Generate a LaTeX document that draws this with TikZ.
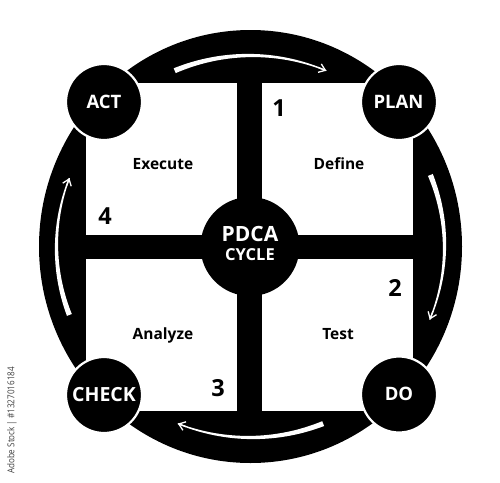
\documentclass[tikz,border=0pt]{standalone}
\usepackage{graphicx}
\usepackage{fontspec}
\setmainfont{Open Sans}
\usetikzlibrary{arrows.meta}
\def\cx{250.5}
\def\cy{246.5}
\def\rx{194}
\def\ry{191}
% tapered white arc from angle #1 (tail) to #2 (head)
\newcommand\taperarc[2]{%
  \fill[white] plot[domain=#1:#2, samples=40, variable=\t]
    ({\cx+(\rx+2.6-2.0*(\t-#1)/(#2-#1))*cos(\t)}, {\cy-(\ry+2.6-2.0*(\t-#1)/(#2-#1))*sin(\t)})
    -- plot[domain=#2:#1, samples=40, variable=\t]
    ({\cx+(\rx-2.6+2.0*(\t-#1)/(#2-#1))*cos(\t)}, {\cy-(\ry-2.6+2.0*(\t-#1)/(#2-#1))*sin(\t)})
    -- cycle;
  \draw[white, line width=1.3pt, -{Straight Barb[length=6pt,width=9pt]}]
    ({\cx+\rx*cos(#2+0.06*(#1-#2))}, {\cy-\ry*sin(#2+0.06*(#1-#2))})
    -- ({\cx+\rx*cos(#2)}, {\cy-\ry*sin(#2)});
}
\begin{document}
\begin{tikzpicture}[x=1pt,y=-1pt,
  corner/.style={circle, fill=black, draw=white, line width=2.2pt, minimum size=76pt,
    inner sep=0pt},
  cornerlabel/.style={anchor=base, text=white, font=\bfseries\fontsize{18.5}{20}\selectfont},
  steplabel/.style={anchor=base, text=black, font=\bfseries\fontsize{15.5}{17}\selectfont},
  numlabel/.style={anchor=base, text=black, font=\bfseries\fontsize{23.5}{25}\selectfont},
  quad/.style={fill=white}
]
\useasboundingbox (0,0) rectangle (500,482);
\fill[white] (0,0) rectangle (500,482);
% outer black disc
\fill[black] (\cx,\cy) ellipse [x radius=211.5, y radius=216.5];
% white quadrants
\fill[quad] (86,83) rectangle (237,235);
\fill[quad] (262,83) rectangle (413,235);
\fill[quad] (86,259) rectangle (237,411);
\fill[quad] (262,259) rectangle (413,411);
% cycle arrows
\taperarc{113}{67}
\taperarc{22}{-22.5}
\taperarc{-68}{-112}
\taperarc{201}{159}
% centre hub
\node[circle, fill=black, minimum size=99pt, inner sep=0pt] (hub) at (250,246.5) {};
\node[anchor=base, text=white, font=\bfseries\fontsize{21}{22}\selectfont] (pdca) at (250,241.7) {PDCA};
\node[anchor=base, text=white, font=\bfseries\fontsize{16.5}{18}\selectfont] (cycle) at (250,260) {CYCLE};
% corner circles
\node[corner] (act) at (104,102) {};
\node[corner] (plan) at (399,102) {};
\node[corner] (check) at (104,395) {};
\node[corner] (do) at (399,394.5) {};
\node[cornerlabel] (actl) at (104,108) {ACT};
\node[cornerlabel] (planl) at (398.5,108.3) {PLAN};
\node[cornerlabel, font=\bfseries\fontsize{19.5}{21}\selectfont] (checkl) at (104,401.7) {CHECK};
\node[cornerlabel] (dol) at (399,400.7) {DO};
% step labels
\node[steplabel] (execute) at (163,169.3) {Execute};
\node[steplabel] (define) at (339,169.3) {Define};
\node[steplabel] (analyze) at (163,339.3) {Analyze};
\node[steplabel] (test) at (338,339.3) {Test};
% numbers
\node[numlabel] (n1) at (279,116.7) {1};
\node[numlabel] (n2) at (395,296) {2};
\node[numlabel] (n3) at (218,396.7) {3};
\node[numlabel] (n4) at (105,224) {4};
% side credit
\node[rotate=90, text=black!75, inner sep=0pt, font=\fontsize{9.5}{10}\selectfont] (credit) at (12,420.5) {\scalebox{0.85}[1]{Adobe Stock | \#1327016184}};
\end{tikzpicture}
\end{document}
